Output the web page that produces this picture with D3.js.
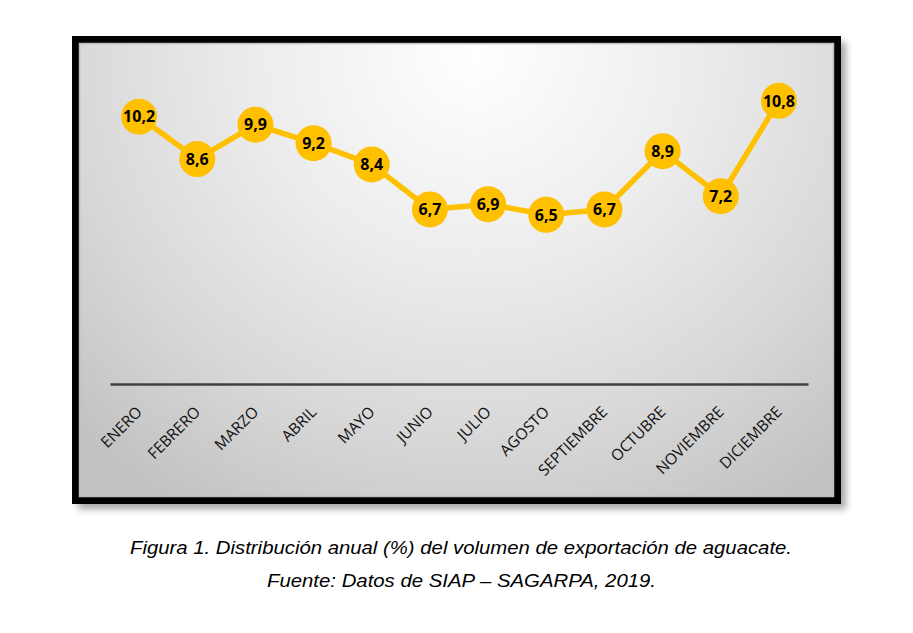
<!DOCTYPE html>
<html><head><meta charset="utf-8">
<script src="https://cdn.jsdelivr.net/npm/d3@7"></script>
<style>body{margin:0;background:#fff;} svg{display:block;}</style>
</head><body>
<script>
const months = ["ENERO","FEBRERO","MARZO","ABRIL","MAYO","JUNIO","JULIO","AGOSTO","SEPTIEMBRE","OCTUBRE","NOVIEMBRE","DICIEMBRE"];
const values = [10.2, 8.6, 9.9, 9.2, 8.4, 6.7, 6.9, 6.5, 6.7, 8.9, 7.2, 10.8];
const labels = ["10,2","8,6","9,9","9,2","8,4","6,7","6,9","6,5","6,7","8,9","7,2","10,8"];
const caption1 = "Figura 1. Distribución anual (%) del volumen de exportación de aguacate.";
const caption2 = "Fuente: Datos de SIAP – SAGARPA, 2019.";

const W = 913, H = 633;
const svg = d3.select("body").append("svg").attr("width", W).attr("height", H);
const defs = svg.append("defs");
const grad = defs.append("radialGradient").attr("id","bg")
  .attr("gradientUnits","userSpaceOnUse")
  .attr("cx",475).attr("cy",55).attr("r",560)
  .attr("gradientTransform","translate(475,55) scale(1,0.95) translate(-475,-55)");
grad.append("stop").attr("offset","0%").attr("stop-color","#ffffff");
grad.append("stop").attr("offset","40%").attr("stop-color","#ececec");
grad.append("stop").attr("offset","72%").attr("stop-color","#d8d8d8");
grad.append("stop").attr("offset","100%").attr("stop-color","#c2c2c2");
const blur = defs.append("filter").attr("id","sh").attr("x","-10%").attr("y","-10%").attr("width","120%").attr("height","120%");
blur.append("feGaussianBlur").attr("stdDeviation",3.5);

// shadow
svg.append("rect").attr("x",78).attr("y",42).attr("width",768).attr("height",467)
  .attr("fill","#777").attr("opacity",0.65).attr("filter","url(#sh)");
// frame
svg.append("rect").attr("x",75.5).attr("y",39.5).attr("width",762).attr("height",461)
  .attr("fill","url(#bg)").attr("stroke","#000").attr("stroke-width",7);
svg.append("rect").attr("x",79.5).attr("y",43.5).attr("width",754).attr("height",453)
  .attr("fill","none").attr("stroke","#bdbdbd").attr("stroke-width",1.5);

const x = d3.scaleBand().domain(months).range([110, 808]);
const y = d3.scaleLinear().domain([0, 12]).range([387, 69]);

// axis line
const axis = d3.axisBottom(x).tickSize(0).tickPadding(0);
const gx = svg.append("g").attr("transform","translate(0,384)").call(axis);
gx.select(".domain").attr("stroke","#404040").attr("stroke-width",2.5);
gx.selectAll(".tick text")
  .attr("font-family","'Open Sans', 'Noto Sans', sans-serif")
  .attr("font-size",15.5).attr("fill","#111")
  .attr("text-anchor","end")
  .attr("dy",0)
  .attr("transform","translate(4,29) rotate(-45)");

const line = d3.line().x((d,i)=>x(months[i])+x.bandwidth()/2).y(d=>y(d));
svg.append("path").datum(values).attr("d",line)
  .attr("fill","none").attr("stroke","#FFC000").attr("stroke-width",5.5).attr("stroke-linejoin","round");

const pts = svg.append("g").selectAll("g").data(values).join("g")
  .attr("transform",(d,i)=>`translate(${x(months[i])+x.bandwidth()/2},${y(d)})`);
pts.append("circle").attr("r",18).attr("fill","#FFC000");
pts.append("text").text((d,i)=>labels[i])
  .attr("text-anchor","middle").attr("dy","0.36em")
  .attr("font-family","'Open Sans', 'Noto Sans', sans-serif")
  .attr("font-weight","bold").attr("font-size",16).attr("fill","#000");

svg.append("text").attr("x",461).attr("y",554).attr("text-anchor","middle")
  .attr("font-family","'Liberation Sans', Arial, sans-serif").attr("font-style","italic")
  .attr("font-size",18).attr("fill","#000")
  .attr("textLength",662).attr("lengthAdjust","spacingAndGlyphs").text(caption1);
svg.append("text").attr("x",461.5).attr("y",587).attr("text-anchor","middle")
  .attr("font-family","'Liberation Sans', Arial, sans-serif").attr("font-style","italic")
  .attr("font-size",18).attr("fill","#000")
  .attr("textLength",389).attr("lengthAdjust","spacingAndGlyphs").text(caption2);
</script>
</body></html>
